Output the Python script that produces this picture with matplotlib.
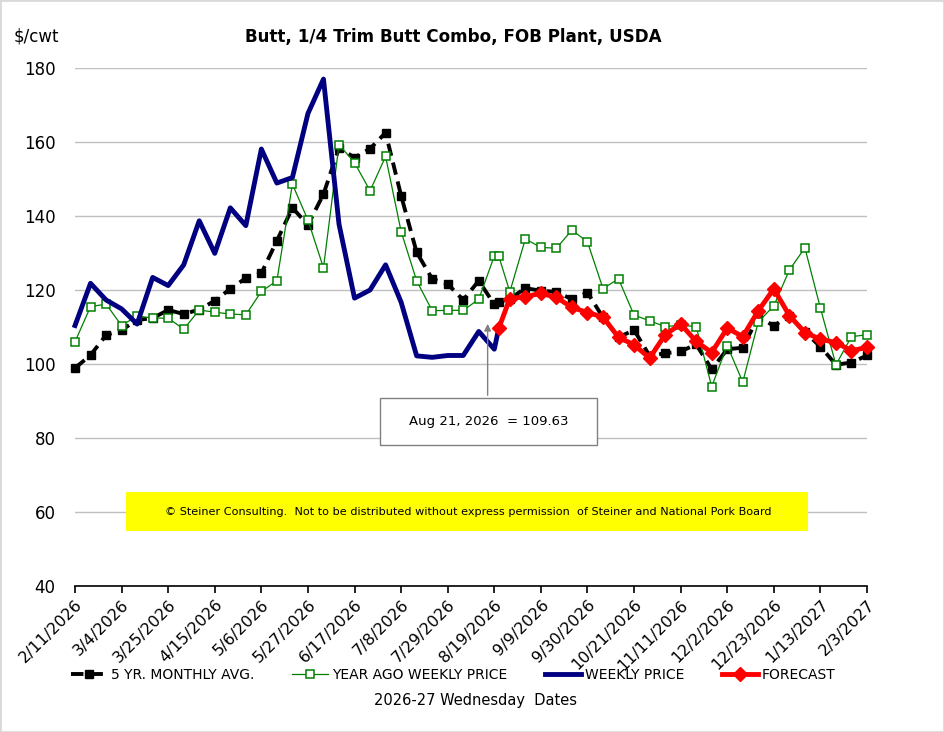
import numpy as np
import pandas as pd
import matplotlib
matplotlib.use('Agg')
import matplotlib.pyplot as plt
from matplotlib.patches import Rectangle

nan = np.nan

# weekly Wednesdays plus the Aug 21 data point
week_dates = list(pd.date_range('2026-02-11', '2027-02-03', freq='7D'))
dates = week_dates[:28] + [pd.Timestamp('2026-08-21')] + week_dates[28:]

five_yr_avg = [98.9, 102.4, 107.8, 109.2, 111.9, 112.4, 114.6, 113.5, 114.7, 117.1,
               120.3, 123.2, 124.5, 133.3, 142.2, 137.6, 145.9, 158.4, 155.8, 158.2,
               162.5, 145.5, 130.2, 123.0, 121.6, 117.3, 122.5, 116.1,
               116.8,
               117.6, 120.5, 119.8, 119.5, 117.5, 119.3, 112.6, 107.2, 109.2, 102.2,
               102.9, 103.4, 105.3, 98.6, 104.0, 104.4, 112.8, 110.3, 113.1, 108.6,
               104.7, 99.8, 100.4, 102.3]

year_ago = [106.0, 115.5, 116.2, 110.4, 113.0, 112.4, 112.4, 109.4, 114.6, 114.0,
            113.5, 113.3, 119.6, 122.5, 148.6, 138.9, 126.0, 159.3, 154.4, 146.8,
            156.1, 135.8, 122.5, 114.4, 114.5, 114.5, 117.5, 129.2,
            129.2,
            119.5, 133.8, 131.5, 131.3, 136.2, 133.0, 120.4, 123.0, 113.2, 111.7,
            110.1, 110.5, 110.1, 93.9, 105.0, 95.1, 111.4, 115.7, 125.4, 131.4,
            115.1, 99.8, 107.4, 107.9]

weekly_price = [110.4, 121.8, 117.3, 114.9, 110.8, 123.4, 121.2, 126.8, 138.7, 129.9,
                142.2, 137.4, 158.1, 148.9, 150.4, 167.7, 177.0, 137.8, 117.8, 120.0,
                126.8, 116.7, 102.2, 101.8, 102.3, 102.3, 108.8, 104.0,
                109.63] + [nan] * 24

forecast = [nan] * 28 + [109.63,
            117.7, 118.2, 119.1, 118.0, 115.3, 113.9, 112.7, 107.2, 105.2, 101.6,
            107.9, 110.8, 106.1, 103.1, 109.7, 107.4, 114.4, 120.3, 113.1, 108.5,
            106.7, 105.8, 103.6, 104.5]

tick_dates = week_dates[::3]
tick_labels = ['2/11/2026', '3/4/2026', '3/25/2026', '4/15/2026', '5/6/2026',
               '5/27/2026', '6/17/2026', '7/8/2026', '7/29/2026', '8/19/2026',
               '9/9/2026', '9/30/2026', '10/21/2026', '11/11/2026', '12/2/2026',
               '12/23/2026', '1/13/2027', '2/3/2027']

plt.rcParams['font.family'] = ['DejaVu Sans']

fig = plt.figure(figsize=(9.44, 7.32), dpi=100)
ax = fig.add_axes([75 / 944, 1 - 586 / 732, 792 / 944, 518 / 732])

ax.plot(dates, five_yr_avg, color='black', lw=2.8, dashes=(3.2, 1.8),
        marker='s', ms=6, mfc='black', mec='black', clip_on=False, zorder=3,
        label='5 YR. MONTHLY AVG.')
ax.plot(dates, year_ago, color='#008000', lw=0.9, marker='s', ms=5.5,
        mfc='white', mec='#008000', mew=1.1, clip_on=False, zorder=4,
        label='YEAR AGO WEEKLY PRICE')
ax.plot(dates, weekly_price, color='#000080', lw=3.5, clip_on=False, zorder=5,
        label='WEEKLY PRICE')
ax.plot(dates, forecast, color='#ff0000', lw=3.5, marker='D', ms=7.5,
        mfc='#ff0000', mec='#ff0000', clip_on=False, zorder=6, label='FORECAST')

ax.set_xlim(week_dates[0], week_dates[-1])
ax.set_ylim(40, 180)
ax.set_yticks(range(40, 181, 20))
ax.grid(axis='y', color='#bfbfbf', lw=1)
ax.set_axisbelow(True)
for side in ['left', 'right', 'top']:
    ax.spines[side].set_visible(False)
ax.spines['bottom'].set_linewidth(1.2)

ax.set_xticks(tick_dates)
ax.set_xticklabels(tick_labels, rotation=45, ha='right', rotation_mode='anchor',
                   fontsize=11.5)
ax.tick_params(axis='x', direction='out', length=5, width=1.2, pad=3)
ax.tick_params(axis='y', length=0, labelsize=12, pad=14)

fig.text(476 / 944, 1 - 701 / 732, '2026-27 Wednesday  Dates', ha='center',
         va='center', fontsize=10.5)

fig.text(453 / 944, 1 - 37 / 732, 'Butt, 1/4 Trim Butt Combo, FOB Plant, USDA',
         ha='center', va='center', fontsize=12.1, fontweight='bold')
fig.text(14 / 944, 1 - 37 / 732, r'\$/cwt', ha='left', va='center', fontsize=12)

# annotation box with arrow
tip_date = pd.Timestamp('2026-08-16')
ax.annotate('', xy=(tip_date, 111.6), xytext=(tip_date, 90.8),
            arrowprops=dict(arrowstyle='-|>', color='#808080', lw=1,
                            mutation_scale=10), zorder=7)
fig.patches.append(Rectangle((380 / 944, 1 - 445 / 732), 217 / 944, 47 / 732,
                             transform=fig.transFigure, facecolor='white',
                             edgecolor='#808080', lw=1, zorder=8))
fig.text(489 / 944, 1 - 421 / 732, 'Aug 21, 2026  = 109.63', ha='center',
         va='center', fontsize=9.5, zorder=9)

# copyright banner
fig.patches.append(Rectangle((126 / 944, 1 - 531 / 732), 682 / 944, 39 / 732,
                             transform=fig.transFigure, facecolor='#ffff00',
                             edgecolor='none', zorder=8))
fig.text(468 / 944, 1 - 512 / 732,
         '\u00a9 Steiner Consulting.  Not to be distributed without express permission  of Steiner and National Pork Board',
         ha='center', va='center', fontsize=8.15, zorder=9)

leg = fig.legend(loc='center left', bbox_to_anchor=(58 / 944, 1 - 675 / 732),
                 ncol=4, frameon=False, fontsize=10, handlelength=2.6,
                 handletextpad=0.3, columnspacing=2.7)

fig.patches.append(Rectangle((0, 0), 1, 1, transform=fig.transFigure,
                             facecolor='none', edgecolor='#d9d9d9', lw=2))

fig.savefig('out.png', dpi=100)
